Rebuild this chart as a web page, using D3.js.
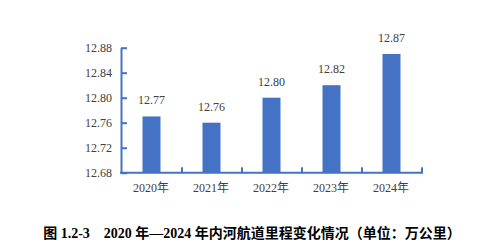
<!DOCTYPE html>
<html><head><meta charset="utf-8">
<script src="https://cdn.jsdelivr.net/npm/d3@7"></script>
<style>body{margin:0;background:#fff}svg{display:block}</style>
</head><body>
<script>
const categories = ["2020年","2021年","2022年","2023年","2024年"];
const values = [12.77, 12.76, 12.80, 12.82, 12.87];
const valueLabels = ["12.77","12.76","12.80","12.82","12.87"];
const yTicks = [12.68, 12.72, 12.76, 12.80, 12.84, 12.88];
const yTickLabels = ["12.68","12.72","12.76","12.80","12.84","12.88"];
const title = "图 1.2-3\u00a0\u00a0\u00a0 2020 年—2024 年内河航道里程变化情况（单位：万公里）";

const W = 496, H = 247;
const svg = d3.select("body").append("svg").attr("width", W).attr("height", H);
const blue = "#4472C4";
const serif = "'Liberation Serif','Times New Roman','Noto Sans CJK SC',serif";

const x = d3.scaleBand().domain(categories).range([122, 422]).paddingInner(0).paddingOuter(0);
const y = d3.scaleLinear().domain([12.68, 12.88]).range([172.7, 47.7]);

// bars
const bw = x.bandwidth() * 0.3;
svg.selectAll("rect.bar").data(values).enter().append("rect")
  .attr("x", (d,i) => x(categories[i]) + x.bandwidth()/2 - bw/2 - 0.5)
  .attr("y", d => y(d))
  .attr("width", bw)
  .attr("height", d => y(12.68) - y(d))
  .attr("fill", blue);

// value labels
svg.selectAll("text.vl").data(values).enter().append("text")
  .attr("x", (d,i) => x(categories[i]) + x.bandwidth()/2 - 0.5)
  .attr("y", d => y(d) - 12)
  .attr("text-anchor", "middle")
  .attr("font-family", serif).attr("font-size", 12).attr("fill", "#404040")
  .text((d,i) => valueLabels[i]);

// y axis
const yAxis = d3.axisLeft(y).tickValues(yTicks).tickFormat((d,i) => yTickLabels[i]).tickSizeInner(-6).tickSizeOuter(0).tickPadding(9);
const gy = svg.append("g").attr("transform", "translate(121,0)").call(yAxis);
gy.select(".domain").attr("stroke", blue).attr("stroke-width", 2);
gy.selectAll(".tick line").attr("stroke", blue).attr("stroke-width", 2);
gy.selectAll(".tick text").attr("font-family", serif).attr("font-size", 12).attr("fill", "#404040");

// x axis
const gx = svg.append("g").attr("transform", "translate(0,172.7)");
gx.append("line").attr("x1", 120).attr("x2", 423).attr("y1", 0).attr("y2", 0).attr("stroke", blue).attr("stroke-width", 2);
const bounds = categories.map(c => x(c) + x.bandwidth());
gx.selectAll("line.t").data(bounds).enter().append("line")
  .attr("x1", d => d).attr("x2", d => d).attr("y1", 0).attr("y2", -5.5)
  .attr("stroke", blue).attr("stroke-width", 2);
gx.selectAll("text.xl").data(categories).enter().append("text")
  .attr("x", d => x(d) + x.bandwidth()/2 - 1)
  .attr("y", 19.5)
  .attr("text-anchor", "middle")
  .attr("font-family", serif).attr("font-size", 12).attr("fill", "#404040")
  .text(d => d);

// title
svg.append("text").attr("x", 252).attr("y", 238)
  .attr("text-anchor", "middle")
  .attr("font-family", serif).attr("font-weight", "bold").attr("font-size", 14).attr("fill", "#000")
  .text(title);
</script>
</body></html>
